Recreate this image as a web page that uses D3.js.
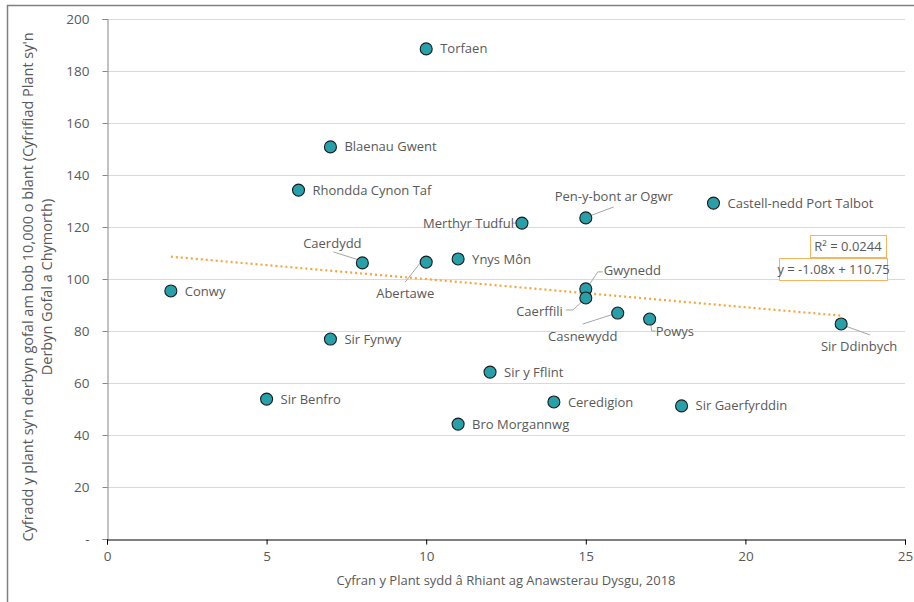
<!DOCTYPE html>
<html><head><meta charset="utf-8">
<script src="https://cdn.jsdelivr.net/npm/d3@7"></script>
<style>body{margin:0;background:#fff}svg{display:block}text{font-family:"Open Sans","Noto Sans",sans-serif}</style>
</head><body>
<svg id="c" width="914" height="602"></svg>
<script>
const names = ["Torfaen","Blaenau Gwent","Rhondda Cynon Taf","Merthyr Tudful","Pen-y-bont ar Ogwr","Castell-nedd Port Talbot","Caerdydd","Abertawe","Ynys Môn","Conwy","Gwynedd","Caerffili","Casnewydd","Powys","Sir Ddinbych","Sir Fynwy","Sir y Fflint","Sir Benfro","Ceredigion","Sir Gaerfyrddin","Bro Morgannwg"];
const xValues = [10,7,6,13,15,19,8,10,11,2,15,15,16,17,23,7,12,5,14,18,11];
const yValues = [188.5,150.8,134.2,121.5,123.5,129.2,106.2,106.5,107.7,95.4,96.2,92.7,86.9,84.6,82.7,76.9,64.2,53.8,52.7,51.2,44.2];
// label placement: [dx, dy, anchor, leader]
const labelPos = {
  "Torfaen":[14,0,"start",0],"Blaenau Gwent":[14,0,"start",0],"Rhondda Cynon Taf":[14,0,"start",0],
  "Merthyr Tudful":[-8,0,"end",1],"Pen-y-bont ar Ogwr":[28,-21,"middle",2],"Castell-nedd Port Talbot":[14,0,"start",0],
  "Caerdydd":[-30,-19,"middle",3],"Abertawe":[-21,31,"middle",4],"Ynys Môn":[14,0,"start",0],"Conwy":[14,0,"start",0],
  "Gwynedd":[18,-18,"start",5],"Caerffili":[-23,13,"end",6],"Casnewydd":[-35,23,"middle",7],"Powys":[6,12,"start",8],
  "Sir Ddinbych":[18,22,"middle",9],"Sir Fynwy":[14,0,"start",0],"Sir y Fflint":[14,0,"start",0],"Sir Benfro":[14,0,"start",0],
  "Ceredigion":[14,0,"start",0],"Sir Gaerfyrddin":[14,0,"start",0],"Bro Morgannwg":[14,0,"start",0]
};
const xTicks = [0,5,10,15,20,25];
const yTicks = [0,20,40,60,80,100,120,140,160,180,200];
const slope = -1.08, intercept = 110.75, r2 = "0.0244";

const svg = d3.select("#c");
const x = d3.scaleLinear().domain([0,25]).range([107,905]);
const y = d3.scaleLinear().domain([0,200]).range([539,19]);
const grey = "#595959";

svg.append("path").attr("d","M7.5,602V5.5H914").attr("fill","none").attr("stroke","#7f7f7f").attr("stroke-width",1.5);

// gridlines
svg.append("g").selectAll("line").data(yTicks.filter(d=>d>0)).join("line")
  .attr("x1",x(0)).attr("x2",x(25)).attr("y1",d=>y(d)+0.5).attr("y2",d=>y(d)+0.5)
  .attr("stroke","#d9d9d9").attr("stroke-width",1);

// y axis
const ya = svg.append("g").attr("transform",`translate(${x(0)+0.5},0)`)
  .call(d3.axisLeft(y).tickValues(yTicks).tickSize(5).tickPadding(13).tickFormat(d=>d===0?"-":d));
ya.select(".domain").attr("stroke","#868686");
ya.selectAll(".tick line").attr("stroke","#868686");
ya.selectAll("text").attr("fill",grey).attr("font-size",13.5);

// x axis
const xa = svg.append("g").attr("transform",`translate(0,${y(0)+0.5})`)
  .call(d3.axisBottom(x).tickValues(xTicks).tickSize(5).tickPadding(7).tickFormat(d3.format("d")));
xa.select(".domain").attr("stroke","#000");
xa.selectAll(".tick line").attr("stroke","#000");
xa.selectAll("text").attr("fill",grey).attr("font-size",13.5);

// titles
svg.append("text").attr("x",506).attr("y",585).attr("text-anchor","middle").attr("fill",grey).attr("font-size",13)
  .text("Cyfran y Plant sydd â Rhiant ag Anawsterau Dysgu, 2018");
const yt = svg.append("text").attr("transform","translate(33,287) rotate(-90)").attr("text-anchor","middle").attr("fill",grey).attr("font-size",14.5);
yt.append("tspan").attr("x",0).attr("y",0).text("Cyfradd y plant sy'n derbyn gofal am bob 10,000 o blant (Cyfrifiad Plant sy'n");
yt.append("tspan").attr("x",0).attr("y",19).text("Derbyn Gofal a Chymorth)");

// trendline
const xmin = d3.min(xValues), xmax = d3.max(xValues);
svg.append("line").attr("x1",x(xmin)).attr("y1",y(slope*xmin+intercept)).attr("x2",x(xmax)).attr("y2",y(slope*xmax+intercept))
  .attr("stroke","#f5a53a").attr("stroke-width",2.2).attr("stroke-dasharray","2,3");

const data = names.map((n,i)=>({n,x:xValues[i],y:yValues[i]}));

// leader lines
const leaders = {
  1:[[-10,0],[-3,0]],
  2:[[4,-2],[28,-11]],
  3:[[-29,-11],[-4,-3]],
  4:[[-21,20],[-3,-3]],
  5:[[17,-17],[12,-17],[4,-5]],
  6:[[-20,12],[-13,12],[-3,3]],
  7:[[-35,11],[-4,1]],
  8:[[6,12],[2,12],[1,4]],
  9:[[29,11],[4,2]]
};
svg.append("g").selectAll("path").data(data.filter(d=>labelPos[d.n][3]>0)).join("path")
  .attr("d",d=>{const L=leaders[labelPos[d.n][3]];return "M"+L.map(p=>[x(d.x)+p[0],y(d.y)+p[1]].join(",")).join("L");})
  .attr("fill","none").attr("stroke","#a6a6a6").attr("stroke-width",1);

// points
svg.append("g").selectAll("circle").data(data).join("circle")
  .attr("cx",d=>x(d.x)).attr("cy",d=>y(d.y)).attr("r",6)
  .attr("fill","#27a0aa").attr("stroke","#1a1a1a").attr("stroke-width",1.1);

// labels
svg.append("g").selectAll("text").data(data).join("text")
  .attr("x",d=>x(d.x)+labelPos[d.n][0]).attr("y",d=>y(d.y)+labelPos[d.n][1])
  .attr("dy","0.35em").attr("text-anchor",d=>labelPos[d.n][2])
  .attr("fill",grey).attr("font-size",13).text(d=>d.n);

// trendline labels
const g1 = svg.append("g");
g1.append("rect").attr("x",810.5).attr("y",235.5).attr("width",76).attr("height",22).attr("fill","#fff").attr("stroke","#f5b460");
g1.append("text").attr("x",848).attr("y",246.5).attr("dy","0.35em").attr("text-anchor","middle").attr("fill",grey).attr("font-size",13)
  .text("R² = "+r2);
g1.append("rect").attr("x",779.5).attr("y",258.5).attr("width",108).attr("height",22).attr("fill","#fff").attr("stroke","#f5b460");
g1.append("text").attr("x",833.5).attr("y",269.5).attr("dy","0.35em").attr("text-anchor","middle").attr("fill",grey).attr("font-size",13)
  .text(`y = ${slope.toFixed(2)}x + ${intercept.toFixed(2)}`);
</script>
</body></html>
